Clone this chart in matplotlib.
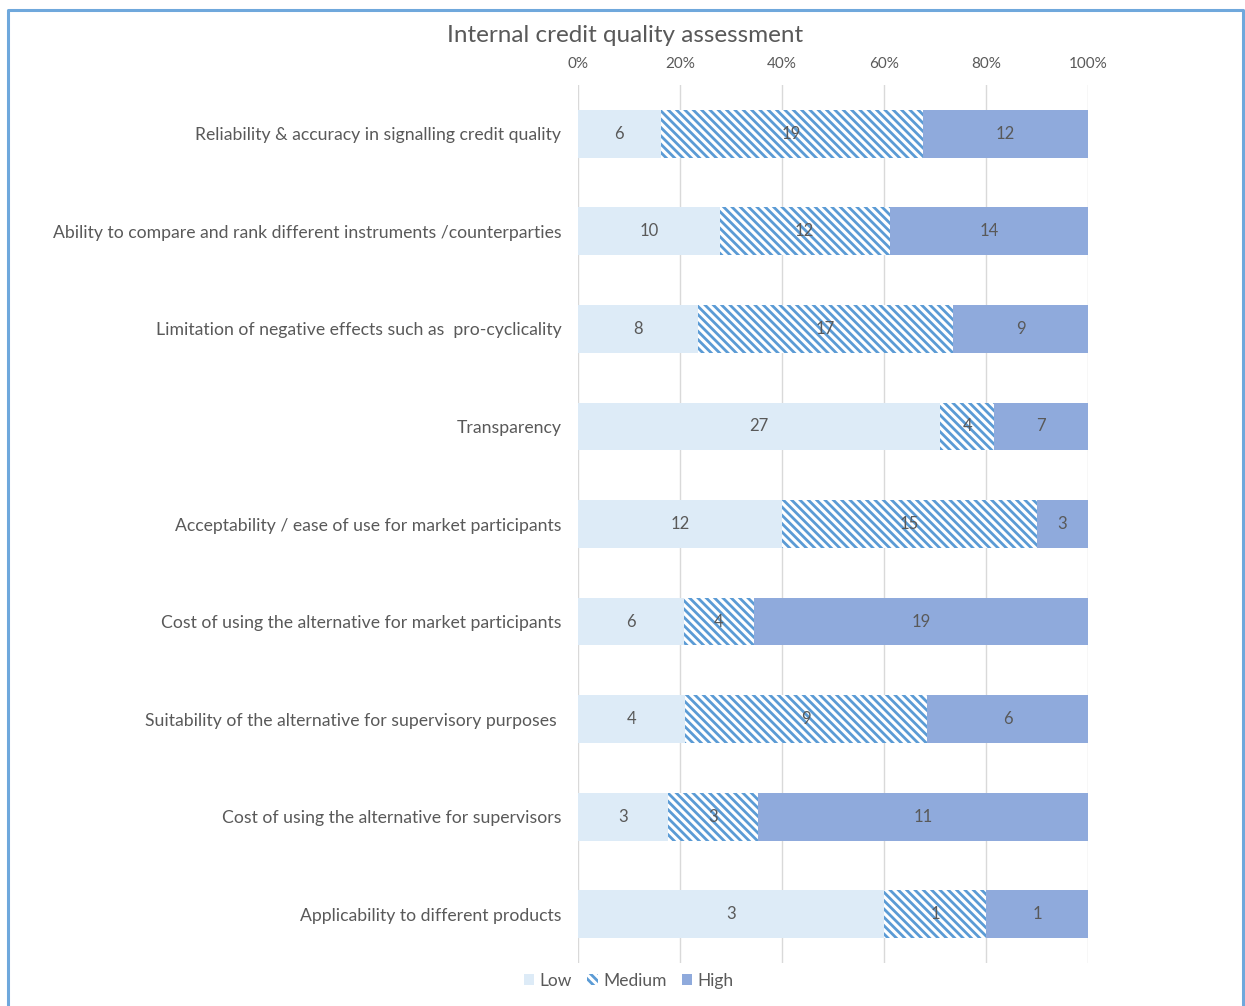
import numpy as np
import matplotlib.pyplot as plt
from matplotlib.patches import Patch
from matplotlib.lines import Line2D

plt.rcParams['font.family'] = ['Lato', 'DejaVu Sans']
plt.rcParams['hatch.color'] = '#5B9BD5'
plt.rcParams['hatch.linewidth'] = 2.0

# survey answers per criterion (counts)
criteria = [
    "Reliability & accuracy in signalling credit quality",
    "Ability to compare and rank different instruments /counterparties",
    "Limitation of negative effects such as  pro-cyclicality",
    "Transparency",
    "Acceptability / ease of use for market participants",
    "Cost of using the alternative for market participants",
    "Suitability of the alternative for supervisory purposes ",
    "Cost of using the alternative for supervisors",
    "Applicability to different products",
]
low = [6, 10, 8, 27, 12, 6, 4, 3, 3]
medium = [19, 12, 17, 4, 15, 4, 9, 3, 1]
high = [12, 14, 9, 7, 3, 19, 6, 11, 1]

grey = '#595959'
c_low = '#DDEBF7'
c_high = '#8FAADC'
hatch = '\\\\\\\\'

counts = np.array([low, medium, high], dtype=float)
shares = counts / counts.sum(axis=0)

fig = plt.figure(figsize=(12.45, 10.06), dpi=100)
ax = fig.add_axes([578/1245, 1-963/1006, 510/1245, (963-85)/1006])

y = np.arange(len(criteria))
styles = [dict(color=c_low), dict(facecolor='white', hatch=hatch, edgecolor='#5B9BD5', linewidth=0),
          dict(color=c_high)]
left = np.zeros(len(criteria))
for k in range(3):
    bars = ax.barh(y, shares[k], left=left, height=0.49, zorder=2, **styles[k])
    for i, b in enumerate(bars):
        ax.text(left[i] + shares[k][i] / 2, y[i], f"{int(counts[k][i])}",
                ha='center', va='center', fontsize=12, color=grey, zorder=3)
    left += shares[k]

ax.set_xlim(0, 1)
ax.set_ylim(len(criteria) - 0.5, -0.5)
ax.set_yticks(y)
ax.set_yticklabels(criteria, fontsize=12.7, color=grey)
ax.set_xticks(np.linspace(0, 1, 6))
ax.set_xticklabels([f"{v}%" for v in range(0, 101, 20)], fontsize=11, color=grey)
ax.xaxis.tick_top()
ax.tick_params(length=0, pad=12)
ax.tick_params(axis='x', pad=10)
ax.grid(axis='x', color='#D9D9D9', linewidth=1, zorder=0)
for s in ax.spines.values():
    s.set_visible(False)

fig.text(0.502, 1-36/1006, "Internal credit quality assessment", ha='center', va='center',
         fontsize=17.5, color=grey)

handles = [Patch(facecolor=c_low, edgecolor='none', label='Low'),
           Patch(facecolor='white', hatch=hatch, edgecolor='#5B9BD5', linewidth=0, label='Medium'),
           Patch(facecolor=c_high, edgecolor='none', label='High')]
fig.legend(handles=handles, loc='center', bbox_to_anchor=(0.505, 1-981/1006), ncol=3,
           frameon=False, fontsize=12.5, labelcolor=grey, handlelength=0.6, handleheight=0.6,
           handletextpad=0.3, columnspacing=0.9)

# outer frame (bottom edge runs off the image)
bx0, bx1, by = 7.5/1245, 1243/1245, 1-9.5/1006
fig.add_artist(Line2D([bx0, bx0, bx1, bx1], [-0.01, by, by, -0.01], transform=fig.transFigure,
                      color='#6FA8DC', linewidth=2.2))

fig.savefig('out.png', dpi=100)
